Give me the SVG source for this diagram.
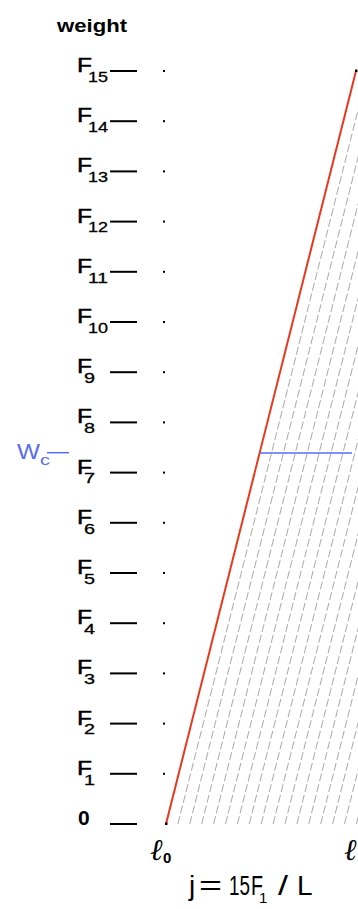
<svg xmlns="http://www.w3.org/2000/svg" width="358" height="909" viewBox="0 0 358 909">
<style>
.t{font-family:"Liberation Sans",Arial,sans-serif;fill:#000}
.F{font-size:21px;stroke:#000;stroke-width:0.5}
.s{font-size:15px;stroke:#000;stroke-width:0.3}
.tick{stroke:#000;stroke-width:2}
.grid{stroke:#a8a8a8;stroke-width:1;stroke-dasharray:8 3;fill:none}
.red{stroke:#e8391f;stroke-width:2}
.blue{stroke:#5a6cf0;stroke-width:1.5}
.bl{fill:#5a6cf0;font-family:"Liberation Sans",Arial,sans-serif}
.ell{font-family:"DejaVu Serif","Liberation Serif",serif;font-style:italic;font-size:30px;fill:#000}
</style>
<rect width="358" height="909" fill="#fff"/>
<text id="ylabel" class="t" x="57" y="31.5" font-size="19" font-weight="bold" textLength="70" lengthAdjust="spacingAndGlyphs">weight</text>
<g id="grid">
<path class="grid" d="M177.9 824l190 -753M189.8 824l190 -753M201.7 824l190 -753M213.6 824l190 -753M225.5 824l190 -753M237.4 824l190 -753M249.3 824l190 -753M261.2 824l190 -753M273.1 824l190 -753M285 824l190 -753M296.9 824l190 -753M308.8 824l190 -753M320.7 824l190 -753M332.6 824l190 -753M344.5 824l190 -753M356.4 824l190 -753"/>
</g>
<g id="connectors">
<line class="red" x1="166" y1="824" x2="356" y2="71"/>
<line class="blue" x1="260" y1="453" x2="352" y2="453"/>
<line class="blue" x1="47" y1="452.7" x2="69" y2="452.7"/>
<rect x="165" y="822.5" width="2.5" height="2.5" fill="#000"/>
<rect x="355" y="69.5" width="2.5" height="2.5" fill="#000"/>
</g>
<g id="axis">
<g id="lvl0"><text class="t" x="78" y="825" font-size="21" font-weight="bold">0</text><line class="tick" x1="110" y1="824" x2="137" y2="824"/></g>
<g id="lvl1"><text class="t F" x="77" y="774.8" textLength="15" lengthAdjust="spacingAndGlyphs">F</text><text class="t s" x="84" y="784.5" textLength="11" lengthAdjust="spacingAndGlyphs">1</text><line class="tick" x1="110" y1="773.8" x2="137" y2="773.8"/><rect x="163" y="772.8" width="2" height="2"/></g>
<g id="lvl2"><text class="t F" x="77" y="724.6" textLength="15" lengthAdjust="spacingAndGlyphs">F</text><text class="t s" x="84" y="734.3" textLength="11" lengthAdjust="spacingAndGlyphs">2</text><line class="tick" x1="110" y1="723.6" x2="137" y2="723.6"/><rect x="163" y="722.6" width="2" height="2"/></g>
<g id="lvl3"><text class="t F" x="77" y="674.4" textLength="15" lengthAdjust="spacingAndGlyphs">F</text><text class="t s" x="84" y="684.1" textLength="11" lengthAdjust="spacingAndGlyphs">3</text><line class="tick" x1="110" y1="673.4" x2="137" y2="673.4"/><rect x="163" y="672.4" width="2" height="2"/></g>
<g id="lvl4"><text class="t F" x="77" y="624.2" textLength="15" lengthAdjust="spacingAndGlyphs">F</text><text class="t s" x="84" y="633.9" textLength="11" lengthAdjust="spacingAndGlyphs">4</text><line class="tick" x1="110" y1="623.2" x2="137" y2="623.2"/><rect x="163" y="622.2" width="2" height="2"/></g>
<g id="lvl5"><text class="t F" x="77" y="574" textLength="15" lengthAdjust="spacingAndGlyphs">F</text><text class="t s" x="84" y="583.7" textLength="11" lengthAdjust="spacingAndGlyphs">5</text><line class="tick" x1="110" y1="573" x2="137" y2="573"/><rect x="163" y="572" width="2" height="2"/></g>
<g id="lvl6"><text class="t F" x="77" y="523.8" textLength="15" lengthAdjust="spacingAndGlyphs">F</text><text class="t s" x="84" y="533.5" textLength="11" lengthAdjust="spacingAndGlyphs">6</text><line class="tick" x1="110" y1="522.8" x2="137" y2="522.8"/><rect x="163" y="521.8" width="2" height="2"/></g>
<g id="lvl7"><text class="t F" x="77" y="473.6" textLength="15" lengthAdjust="spacingAndGlyphs">F</text><text class="t s" x="84" y="483.3" textLength="11" lengthAdjust="spacingAndGlyphs">7</text><line class="tick" x1="110" y1="472.6" x2="137" y2="472.6"/><rect x="163" y="471.6" width="2" height="2"/></g>
<g id="lvl8"><text class="t F" x="77" y="423.4" textLength="15" lengthAdjust="spacingAndGlyphs">F</text><text class="t s" x="84" y="433.1" textLength="11" lengthAdjust="spacingAndGlyphs">8</text><line class="tick" x1="110" y1="422.4" x2="137" y2="422.4"/><rect x="163" y="421.4" width="2" height="2"/></g>
<g id="lvl9"><text class="t F" x="77" y="373.2" textLength="15" lengthAdjust="spacingAndGlyphs">F</text><text class="t s" x="84" y="382.9" textLength="11" lengthAdjust="spacingAndGlyphs">9</text><line class="tick" x1="110" y1="372.2" x2="137" y2="372.2"/><rect x="163" y="371.2" width="2" height="2"/></g>
<g id="lvl10"><text class="t F" x="77" y="323" textLength="15" lengthAdjust="spacingAndGlyphs">F</text><text class="t s" x="88" y="332.7" textLength="20" lengthAdjust="spacingAndGlyphs">10</text><line class="tick" x1="110" y1="322" x2="137" y2="322"/><rect x="163" y="321" width="2" height="2"/></g>
<g id="lvl11"><text class="t F" x="77" y="272.8" textLength="15" lengthAdjust="spacingAndGlyphs">F</text><text class="t s" x="88" y="282.5" textLength="20" lengthAdjust="spacingAndGlyphs">11</text><line class="tick" x1="110" y1="271.8" x2="137" y2="271.8"/><rect x="163" y="270.8" width="2" height="2"/></g>
<g id="lvl12"><text class="t F" x="77" y="222.6" textLength="15" lengthAdjust="spacingAndGlyphs">F</text><text class="t s" x="88" y="232.3" textLength="20" lengthAdjust="spacingAndGlyphs">12</text><line class="tick" x1="110" y1="221.6" x2="137" y2="221.6"/><rect x="163" y="220.6" width="2" height="2"/></g>
<g id="lvl13"><text class="t F" x="77" y="172.4" textLength="15" lengthAdjust="spacingAndGlyphs">F</text><text class="t s" x="88" y="182.1" textLength="20" lengthAdjust="spacingAndGlyphs">13</text><line class="tick" x1="110" y1="171.4" x2="137" y2="171.4"/><rect x="163" y="170.4" width="2" height="2"/></g>
<g id="lvl14"><text class="t F" x="77" y="122.2" textLength="15" lengthAdjust="spacingAndGlyphs">F</text><text class="t s" x="88" y="131.9" textLength="20" lengthAdjust="spacingAndGlyphs">14</text><line class="tick" x1="110" y1="121.2" x2="137" y2="121.2"/><rect x="163" y="120.2" width="2" height="2"/></g>
<g id="lvl15"><text class="t F" x="77" y="72" textLength="15" lengthAdjust="spacingAndGlyphs">F</text><text class="t s" x="88" y="81.7" textLength="20" lengthAdjust="spacingAndGlyphs">15</text><line class="tick" x1="110" y1="71" x2="137" y2="71"/><rect x="163" y="70" width="2" height="2"/></g>
</g>
<g id="wc"><text class="bl" x="17" y="459" font-size="22" textLength="23" lengthAdjust="spacingAndGlyphs">W</text><text class="bl" x="40" y="465" font-size="15" textLength="10" lengthAdjust="spacingAndGlyphs">c</text></g>
<g id="l0"><text class="ell" x="150" y="860">ℓ</text><text class="t" x="163" y="863" font-size="15" font-weight="bold">0</text></g>
<g id="l1"><text class="ell" x="344" y="860">ℓ</text></g>
<g id="formula">
<text class="t" x="189" y="895" font-size="28">j</text>
<text class="t" x="199" y="895" font-size="28" textLength="23" lengthAdjust="spacingAndGlyphs">=</text>
<text class="t" x="229" y="895" font-size="28" textLength="21" lengthAdjust="spacingAndGlyphs">15</text>
<text class="t" x="251" y="895" font-size="28" textLength="12" lengthAdjust="spacingAndGlyphs">F</text>
<text class="t" x="259" y="903" font-size="15">1</text>
<text class="t" x="278" y="895" font-size="28" textLength="10" lengthAdjust="spacingAndGlyphs">/</text>
<text class="t" x="297" y="895" font-size="28">L</text>
</g>
</svg>
